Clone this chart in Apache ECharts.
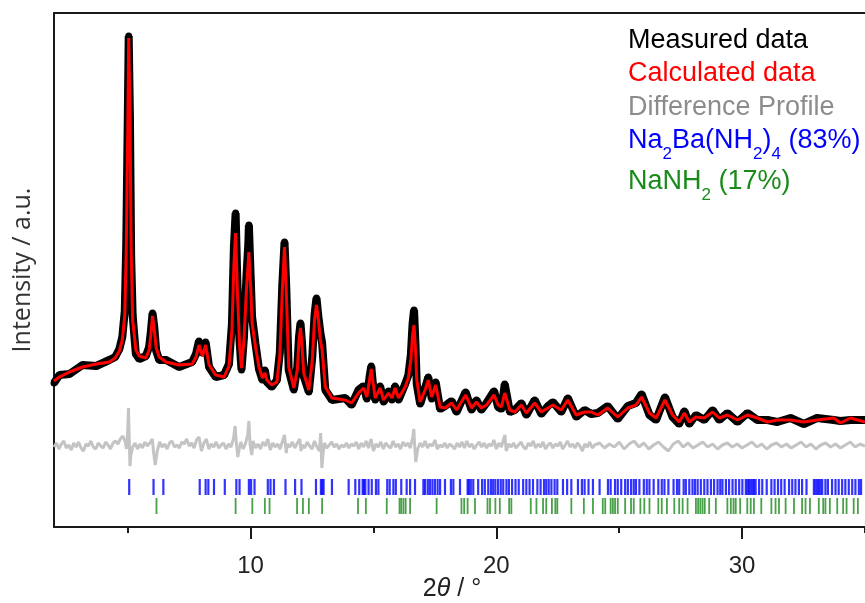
<!DOCTYPE html>
<html><head><meta charset="utf-8">
<script src="https://cdn.jsdelivr.net/npm/echarts@6/dist/echarts.min.js"></script>
<style>html,body{margin:0;padding:0;background:#fff}#c{width:865px;height:603px}</style>
</head><body><div id="c"></div>
<script>
// ---- data (2θ in degrees, intensity in arbitrary units) ----
const xTickValues = [10, 20, 30];
const xMinorTickValues = [5, 15, 25, 35];

const calculated = [[2.00,146],[2.22,150],[2.63,155],[3.16,160],[3.72,163],[4.25,165],[4.49,169],[4.66,176],[4.78,187],[4.88,212],[4.94,277],[5.00,397],[5.04,489],[5.09,417],[5.14,277],[5.20,207],[5.33,177],[5.47,171],[5.74,169],[5.87,177],[5.94,192],[6.01,211],[6.08,197],[6.16,179],[6.28,170],[6.56,165],[7.09,162],[7.62,163],[7.78,170],[7.90,182],[8.04,171],[8.17,182],[8.31,162],[8.58,152],[8.92,150],[9.12,161],[9.24,197],[9.32,262],[9.39,294],[9.46,237],[9.55,182],[9.63,159],[9.73,187],[9.83,237],[9.93,275],[10.01,237],[10.06,204],[10.20,180],[10.34,160],[10.48,149],[10.58,154],[10.66,147],[10.86,142],[11.07,145],[11.19,172],[11.29,237],[11.38,280],[11.45,237],[11.55,160],[11.76,139],[11.90,157],[11.97,187],[12.03,199],[12.09,182],[12.16,154],[12.37,137],[12.51,167],[12.60,207],[12.68,222],[12.76,207],[12.84,187],[12.91,177],[13.04,140],[13.31,129],[13.85,127],[14.11,124],[14.39,134],[14.60,139],[14.73,130],[14.84,147],[14.91,158],[14.98,145],[15.07,129],[15.27,139],[15.41,127],[15.61,134],[15.75,129],[15.88,139],[16.02,129],[16.29,140],[16.42,149],[16.52,167],[16.59,192],[16.65,202],[16.71,177],[16.76,147],[16.90,125],[17.10,137],[17.23,147],[17.37,130],[17.53,142],[17.71,120],[17.91,119],[18.18,124],[18.38,117],[18.75,132],[18.99,119],[19.19,125],[19.39,119],[19.60,122],[19.91,132],[20.07,122],[20.21,120],[20.34,134],[20.55,117],[20.75,115],[21.02,122],[21.22,114],[21.56,124],[21.83,115],[22.10,119],[22.30,122],[22.64,117],[22.91,127],[23.25,112],[23.59,115],[23.86,115],[24.13,112],[24.53,119],[24.94,110],[25.35,119],[25.68,122],[25.91,130],[26.23,114],[26.50,109],[26.86,127],[27.17,112],[27.44,105],[27.65,114],[27.85,105],[28.12,110],[28.46,109],[28.80,115],[29.07,109],[29.40,112],[29.81,107],[30.22,112],[30.62,109],[31.03,105],[31.43,107],[31.97,107],[32.51,105],[33.05,107],[33.73,109],[34.00,104],[34.41,109],[35.00,105]];

const measured = [[2.00,144],[2.22,152],[2.63,153],[3.16,162],[3.72,161],[4.25,167],[4.49,170],[4.66,178],[4.78,190],[4.88,216],[4.94,283],[5.00,405],[5.04,491],[5.09,410],[5.14,270],[5.20,212],[5.33,173],[5.47,168],[5.74,171],[5.87,180],[5.94,195],[6.01,214],[6.08,200],[6.16,176],[6.28,167],[6.56,167],[7.09,160],[7.62,165],[7.78,173],[7.90,186],[8.04,174],[8.17,185],[8.31,160],[8.58,150],[8.92,152],[9.12,163],[9.24,203],[9.32,280],[9.37,304],[9.39,314],[9.46,246],[9.55,186],[9.63,157],[9.73,190],[9.83,250],[9.91,285],[9.93,302],[10.01,245],[10.06,210],[10.20,183],[10.34,158],[10.48,147],[10.58,157],[10.66,145],[10.86,140],[11.07,147],[11.19,175],[11.29,242],[11.38,285],[11.45,240],[11.55,157],[11.76,137],[11.90,160],[11.97,190],[12.03,204],[12.09,185],[12.16,151],[12.37,135],[12.51,170],[12.60,212],[12.68,229],[12.76,210],[12.84,194],[12.91,184],[13.04,137],[13.31,127],[13.85,129],[14.11,122],[14.39,137],[14.60,141],[14.73,128],[14.84,150],[14.91,161],[14.98,142],[15.07,127],[15.27,141],[15.41,125],[15.61,136],[15.75,127],[15.88,141],[16.02,127],[16.29,143],[16.42,152],[16.52,172],[16.59,203],[16.65,217],[16.71,182],[16.76,143],[16.90,123],[17.10,139],[17.23,150],[17.37,128],[17.53,145],[17.71,118],[17.91,121],[18.18,126],[18.38,115],[18.75,135],[18.99,117],[19.19,127],[19.39,117],[19.60,124],[19.91,136],[20.07,120],[20.21,118],[20.34,143],[20.55,115],[20.75,117],[21.02,124],[21.22,112],[21.56,127],[21.83,113],[22.10,121],[22.30,125],[22.64,115],[22.91,129],[23.25,110],[23.59,117],[23.86,113],[24.13,114],[24.53,121],[24.94,108],[25.35,121],[25.68,124],[25.91,133],[26.23,112],[26.50,107],[26.86,130],[27.17,110],[27.44,103],[27.65,116],[27.85,103],[28.12,112],[28.46,107],[28.80,117],[29.07,107],[29.40,114],[29.81,105],[30.22,114],[30.62,107],[31.03,107],[31.43,105],[31.97,109],[32.51,103],[33.05,109],[33.73,107],[34.00,106],[34.41,107],[35.00,107]];

const difference = [[2.0,80],[2.1,84],[2.2,78],[2.3,83],[2.4,86],[2.5,79],[2.6,82],[2.7,77],[2.8,84],[2.9,80],[3.0,85],[3.1,79],[3.2,76],[3.3,83],[3.4,81],[3.5,86],[3.6,80],[3.7,78],[3.8,84],[3.9,81],[4.0,79],[4.1,85],[4.2,82],[4.3,78],[4.4,84],[4.5,86],[4.6,83],[4.7,88],[4.8,91],[4.9,85],[4.95,78],[5.0,96],[5.03,119],[5.06,90],[5.09,61],[5.13,72],[5.2,80],[5.3,84],[5.4,78],[5.5,83],[5.6,79],[5.7,85],[5.8,81],[5.9,84],[6.0,88],[6.05,75],[6.12,62],[6.2,76],[6.3,85],[6.4,80],[6.5,83],[6.6,78],[6.7,84],[6.8,86],[6.9,80],[7.0,82],[7.1,79],[7.2,85],[7.3,83],[7.4,88],[7.5,81],[7.6,84],[7.7,79],[7.8,87],[7.9,90],[8.0,76],[8.1,84],[8.2,88],[8.3,78],[8.4,83],[8.5,80],[8.6,85],[8.7,79],[8.8,82],[8.9,84],[9.0,78],[9.1,83],[9.2,80],[9.3,88],[9.37,101],[9.42,84],[9.48,70],[9.55,80],[9.6,85],[9.7,78],[9.8,84],[9.88,92],[9.93,106],[9.98,82],[10.05,72],[10.1,86],[10.2,79],[10.3,83],[10.4,78],[10.5,85],[10.6,81],[10.7,88],[10.8,77],[10.9,84],[11.0,80],[11.1,83],[11.2,78],[11.3,86],[11.38,92],[11.45,74],[11.5,83],[11.6,80],[11.7,85],[11.8,79],[11.9,84],[12.0,88],[12.05,76],[12.1,82],[12.2,79],[12.3,85],[12.4,81],[12.5,78],[12.6,86],[12.7,80],[12.8,76],[12.85,94],[12.9,59],[12.95,74],[13.0,84],[13.1,79],[13.2,82],[13.3,85],[13.4,80],[13.5,83],[13.6,78],[13.7,82],[13.8,80],[13.9,84],[14.0,79],[14.1,83],[14.2,81],[14.3,85],[14.4,78],[14.5,84],[14.6,80],[14.7,86],[14.8,79],[14.9,88],[15.0,76],[15.1,83],[15.2,80],[15.3,85],[15.4,78],[15.5,84],[15.6,81],[15.7,79],[15.8,86],[15.9,80],[16.0,83],[16.1,78],[16.2,85],[16.3,81],[16.4,84],[16.5,79],[16.6,90],[16.64,98],[16.68,80],[16.72,65],[16.8,78],[16.9,84],[17.0,80],[17.1,86],[17.2,79],[17.3,83],[17.4,81],[17.5,87],[17.6,78],[17.7,82],[17.8,80],[17.9,84],[18.0,79],[18.1,83],[18.2,81],[18.3,78],[18.4,84],[18.5,80],[18.6,85],[18.7,79],[18.8,86],[18.9,80],[19.0,83],[19.1,78],[19.2,82],[19.3,85],[19.4,80],[19.5,84],[19.6,79],[19.7,83],[19.8,81],[19.9,87],[20.0,78],[20.1,84],[20.2,80],[20.3,88],[20.35,92],[20.4,76],[20.5,83],[20.6,80],[20.7,84],[20.8,79],[20.9,82],[21.0,85],[21.1,80],[21.2,78],[21.3,84],[21.4,81],[21.5,86],[21.6,79],[21.7,83],[21.8,80],[21.9,85],[22.0,78],[22.1,82],[22.2,84],[22.3,79],[22.4,83],[22.5,81],[22.6,85],[22.7,78],[22.8,82],[22.9,86],[23.0,80],[23.1,83],[23.2,79],[23.3,84],[23.4,81],[23.5,76],[23.6,83],[23.7,80],[23.8,85],[23.9,79],[24.0,82],[24.2,84],[24.4,79],[24.6,83],[24.8,80],[25.0,85],[25.2,78],[25.4,83],[25.6,86],[25.8,80],[26.0,84],[26.2,78],[26.4,82],[26.6,85],[26.8,80],[27.0,76],[27.2,83],[27.4,86],[27.6,80],[27.8,84],[28.0,79],[28.2,82],[28.4,85],[28.6,80],[28.8,83],[29.0,78],[29.2,82],[29.4,84],[29.6,80],[29.8,83],[30.0,79],[30.2,82],[30.4,85],[30.6,80],[30.8,83],[31.0,78],[31.2,82],[31.4,84],[31.6,80],[31.8,83],[32.0,79],[32.2,82],[32.4,85],[32.6,80],[32.8,83],[33.0,78],[33.2,82],[33.4,84],[33.6,80],[33.8,83],[34.0,79],[34.2,82],[34.4,85],[34.6,80],[34.8,83],[35.0,81]];

const reflectionsNa2Ba = [5.06,6.05,6.45,7.93,8.17,8.28,8.51,8.95,9.42,9.55,9.93,10.02,10.16,10.70,10.81,10.95,11.42,11.81,12.07,12.66,12.86,12.92,12.97,13.31,13.99,14.26,14.42,14.56,14.61,14.67,14.80,14.93,15.10,15.20,15.56,15.66,15.81,15.91,16.13,16.35,16.49,16.69,17.03,17.10,17.21,17.30,17.40,17.50,17.61,17.71,17.91,18.15,18.25,18.52,18.83,18.88,18.96,19.06,19.26,19.42,19.53,19.67,19.78,19.87,19.96,20.07,20.18,20.28,20.41,20.51,20.64,20.78,20.91,21.09,21.22,21.35,21.49,21.67,21.80,21.94,22.03,22.13,22.24,22.37,22.48,22.71,22.88,23.05,23.32,23.48,23.59,23.75,23.93,24.20,24.54,24.65,24.83,24.94,25.08,25.24,25.35,25.48,25.59,25.68,25.82,26.00,26.12,26.23,26.40,26.59,26.73,26.84,27.00,27.21,27.35,27.44,27.62,27.71,27.85,27.98,28.08,28.19,28.32,28.46,28.59,28.73,28.86,29.00,29.11,29.20,29.34,29.47,29.61,29.74,29.88,30.01,30.15,30.22,30.28,30.35,30.42,30.48,30.55,30.69,30.82,31.00,31.19,31.32,31.46,31.59,31.73,31.91,32.04,32.17,32.31,32.44,32.62,32.92,32.99,33.06,33.12,33.19,33.26,33.39,33.49,33.66,33.80,33.93,34.07,34.20,34.34,34.48,34.61,34.75,34.84];

const reflectionsNaNH2 = [6.17,9.39,10.07,10.58,10.77,11.89,12.13,12.37,12.91,14.37,14.69,15.54,16.06,16.13,16.22,16.31,16.49,17.57,18.58,18.69,18.83,19.13,19.64,19.74,19.96,20.14,20.52,20.61,21.40,21.63,21.90,22.03,22.26,22.40,22.48,23.05,23.56,23.93,24.33,24.43,24.65,24.74,24.83,24.94,25.24,25.48,25.59,25.86,26.02,26.23,26.59,26.73,26.94,27.24,27.44,27.58,27.78,28.12,28.21,28.30,28.39,28.48,28.66,28.93,29.40,29.54,29.65,29.74,29.92,30.21,30.35,30.48,30.78,31.19,31.36,31.50,31.77,32.11,32.44,32.58,32.76,33.12,33.30,33.39,33.57,33.87,34.11,34.25,34.54,34.71];

// ---- chart ----
const FONT = '"Liberation Sans", Arial, sans-serif';
const ROW_NA2BA = 40, ROW_NANH2 = 21;
const BLUE = '#0000ff', GREEN = '#1a8a1a';
const chart = echarts.init(document.getElementById('c'), null, {renderer: 'canvas'});
const axisLine = {show: true, lineStyle: {color: '#1a1a1a', width: 2}};
function legendRich(color) {
  return {
    n: {fontSize: 27, fontFamily: FONT, fill: color},
    s: {fontSize: 17, fontFamily: FONT, fill: color, padding: [26, 0, 0, 0]}
  };
}
chart.setOption({
  animation: false,
  backgroundColor: '#fff',
  grid: {left: 54, right: -3, top: 13, bottom: 76, containLabel: false},
  xAxis: [
    {type: 'value', position: 'bottom', min: 2, max: 35,
     axisLine: axisLine,
     axisTick: {show: true, customValues: xTickValues, length: 12, inside: false, lineStyle: {color: '#1a1a1a', width: 2}},
     axisLabel: {show: true, customValues: xTickValues, fontSize: 24, fontFamily: FONT, color: '#222', margin: 27},
     splitLine: {show: false}},
    {type: 'value', position: 'bottom', min: 2, max: 35,
     axisLine: {show: false},
     axisTick: {show: true, customValues: xMinorTickValues, length: 6, lineStyle: {color: '#1a1a1a', width: 2}},
     axisLabel: {show: false}, splitLine: {show: false}},
    {type: 'value', position: 'top', min: 2, max: 35,
     axisLine: axisLine, axisTick: {show: false}, axisLabel: {show: false}, splitLine: {show: false}}
  ],
  yAxis: {type: 'value', min: 0, max: 514, axisLine: axisLine, axisTick: {show: false}, axisLabel: {show: false}, splitLine: {show: false}},
  series: [
    {name: 'Difference Profile', type: 'line', data: difference, showSymbol: false, symbol: 'none',
     lineStyle: {color: '#c4c4c4', width: 3}, z: 2},
    {name: 'Na2Ba(NH2)4', type: 'scatter', data: reflectionsNa2Ba.map(v => [v, ROW_NA2BA]),
     symbol: 'rect', symbolSize: [2.2, 16], itemStyle: {color: BLUE}, z: 2},
    {name: 'NaNH2', type: 'scatter', data: reflectionsNaNH2.map(v => [v, ROW_NANH2]),
     symbol: 'rect', symbolSize: [1.8, 16], itemStyle: {color: GREEN}, z: 2},
    {name: 'Measured data', type: 'line', data: measured, symbol: 'circle', symbolSize: 7, showSymbol: true,
     itemStyle: {color: '#000'}, lineStyle: {color: '#000', width: 8}, z: 3},
    {name: 'Calculated data', type: 'line', data: calculated, showSymbol: false, symbol: 'none',
     lineStyle: {color: '#ff0000', width: 3}, z: 4}
  ],
  graphic: [
    {type: 'text', x: 23, y: 270, rotation: Math.PI / 2,
     style: {text: 'Intensity / a.u.', fontSize: 25, fontFamily: '"Open Sans", sans-serif', fill: '#333', align: 'center', verticalAlign: 'middle'}},
    {type: 'text', x: 452, y: 589,
     style: {text: '{a|2}{b|θ}{a| / °}', align: 'center', verticalAlign: 'middle',
       rich: {a: {fontSize: 25, fontFamily: FONT, fill: '#222'}, b: {fontSize: 25, fontFamily: FONT, fontStyle: 'italic', fill: '#222'}}}},
    {type: 'text', x: 628, y: 41, style: {text: 'Measured data', fontSize: 27, fontFamily: FONT, fill: '#000', verticalAlign: 'middle'}},
    {type: 'text', x: 628, y: 74, style: {text: 'Calculated data', fontSize: 27, fontFamily: FONT, fill: '#ff0000', verticalAlign: 'middle'}},
    {type: 'text', x: 628, y: 108, style: {text: 'Difference Profile', fontSize: 27, fontFamily: FONT, fill: '#8c8c8c', verticalAlign: 'middle'}},
    {type: 'text', x: 628, y: 141, style: {text: '{n|Na}{s|2}{n|Ba(NH}{s|2}{n|)}{s|4}{n| (83%)}', verticalAlign: 'middle', rich: legendRich(BLUE)}},
    {type: 'text', x: 628, y: 182, style: {text: '{n|NaNH}{s|2}{n| (17%)}', verticalAlign: 'middle', rich: legendRich(GREEN)}}
  ]
});
</script></body></html>
